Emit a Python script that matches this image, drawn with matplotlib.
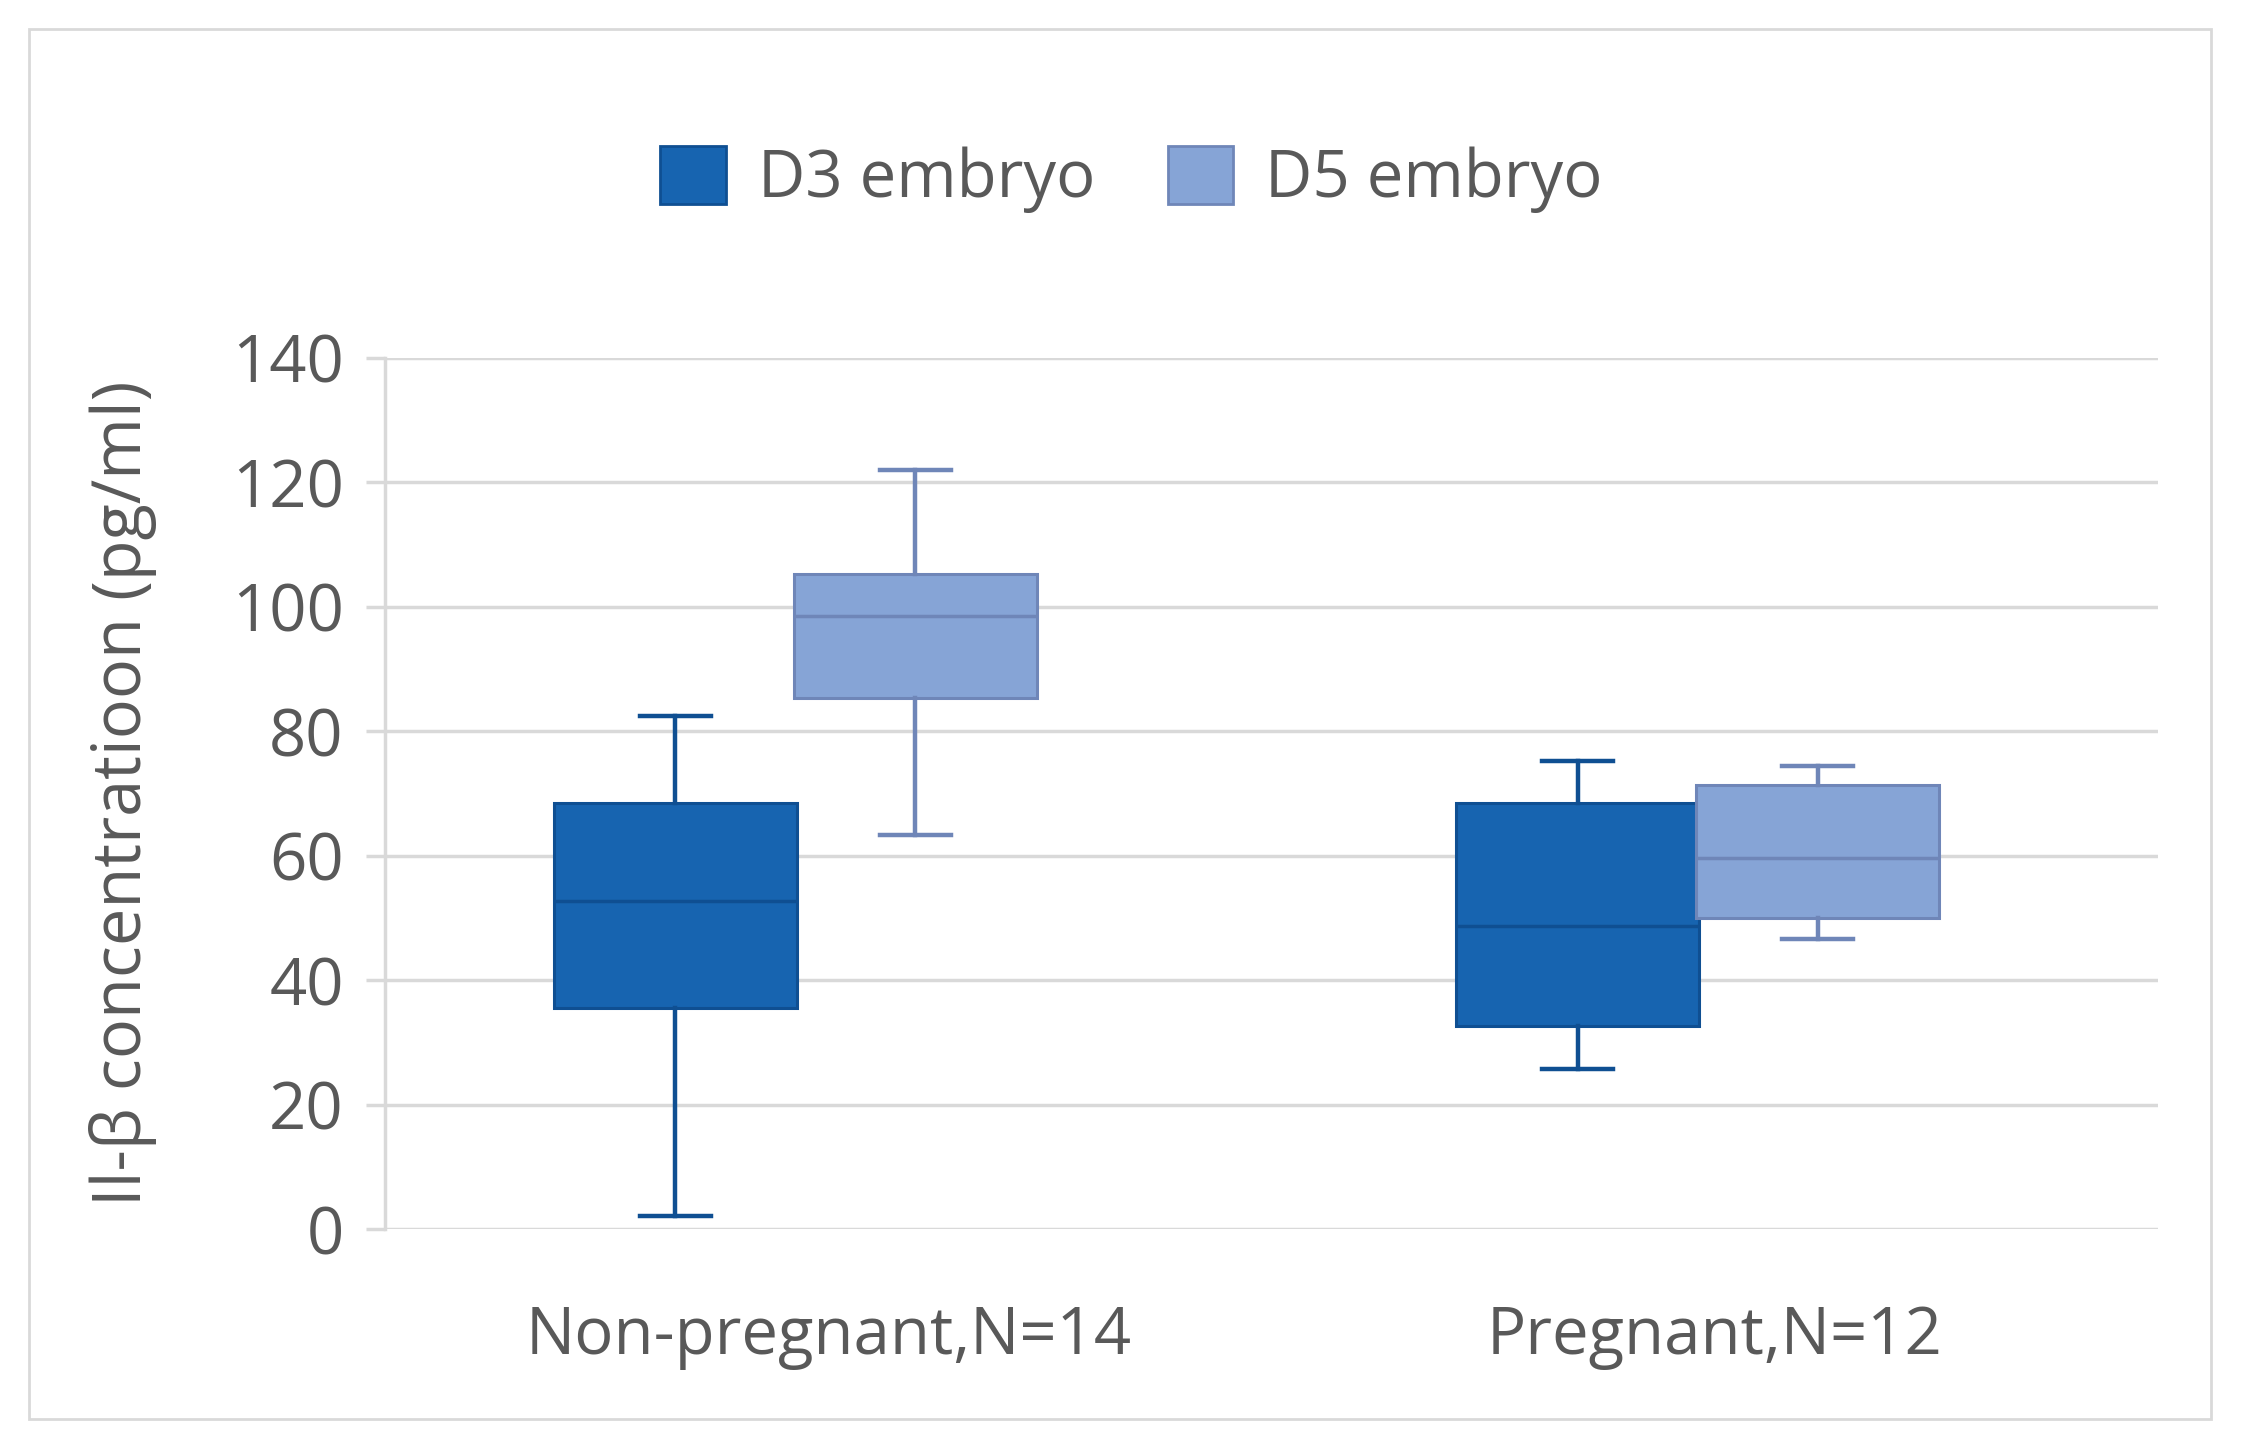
import matplotlib.pyplot as plt
from matplotlib.patches import Patch, Rectangle

# values (pg/ml)
groups = ["Non-pregnant,N=14", "Pregnant,N=12"]
series = ["D3 embryo", "D5 embryo"]
d3_whislo = [2.1, 25.7]
d3_q1 = [35.6, 32.6]
d3_med = [52.8, 48.7]
d3_q3 = [68.4, 68.4]
d3_whishi = [82.4, 75.3]
d5_whislo = [63.3, 46.6]
d5_q1 = [85.4, 50.0]
d5_med = [98.5, 59.7]
d5_q3 = [105.3, 71.4]
d5_whishi = [121.9, 74.4]

fill_cols = ["#1764B0", "#86A4D6"]
edge_cols = ["#0F4F92", "#6F86B8"]
text_col = "#595959"
grid_col = "#D9D9D9"

plt.rcParams['font.family'] = ['Open Sans', 'DejaVu Sans']

fig = plt.figure(figsize=(22.41, 14.48), dpi=100)
ax = fig.add_axes([0.172, 0.151, 0.791, 0.602])

# outer chart frame
fig.patches.append(Rectangle((0.0128, 0.020), 0.974, 0.960, transform=fig.transFigure,
                             fill=False, edgecolor=grid_col, lw=2))

# box centres in axis units (category g spans g..g+1)
positions = [[0.327, 1.345], [0.598, 1.616]]
width = 0.274
data = [
    (d3_whislo, d3_q1, d3_med, d3_q3, d3_whishi),
    (d5_whislo, d5_q1, d5_med, d5_q3, d5_whishi),
]
for s, (lo, q1, med, q3, hi) in enumerate(data):
    stats = []
    for g in range(len(groups)):
        stats.append(dict(whislo=lo[g], q1=q1[g], med=med[g], q3=q3[g],
                          whishi=hi[g], fliers=[]))
    ax.bxp(stats, positions=positions[s], widths=width, capwidths=0.08,
           patch_artist=True, showfliers=False, manage_ticks=False,
           boxprops=dict(facecolor=fill_cols[s], edgecolor=edge_cols[s], lw=2.2),
           medianprops=dict(color=edge_cols[s], lw=2.5),
           whiskerprops=dict(color=edge_cols[s], lw=3.2),
           capprops=dict(color=edge_cols[s], lw=3.2), zorder=3)

ax.set_xlim(0, 2)
ax.set_ylim(0, 140)
ax.set_yticks(range(0, 141, 20))
ax.set_xticks([0.5, 1.5])
ax.set_xticklabels(groups)
ax.yaxis.grid(True, color=grid_col, lw=2.5)
ax.set_axisbelow(True)
for side in ["top", "right", "bottom"]:
    ax.spines[side].set_visible(False)
ax.spines["left"].set_color(grid_col)
ax.spines["left"].set_linewidth(2.5)
ax.tick_params(axis='y', length=14, width=2.5, color=grid_col, pad=16,
               labelsize=47, labelcolor=text_col)
ax.tick_params(axis='x', length=0, pad=54, labelsize=47, labelcolor=text_col)

fig.text(0.055, 0.452, "Il-β concentratioon (pg/ml)", rotation=90,
         ha='center', va='center', fontsize=48, color=text_col)

handles = [Patch(facecolor=fill_cols[i], edgecolor=edge_cols[i], lw=2) for i in range(2)]
fig.legend(handles, series, loc='center', bbox_to_anchor=(0.505, 0.876), ncol=2,
           frameon=False, fontsize=47, labelcolor=text_col, handlelength=1.0,
           handleheight=1.0, handletextpad=0.5, columnspacing=1.1)

plt.savefig("out.png")
